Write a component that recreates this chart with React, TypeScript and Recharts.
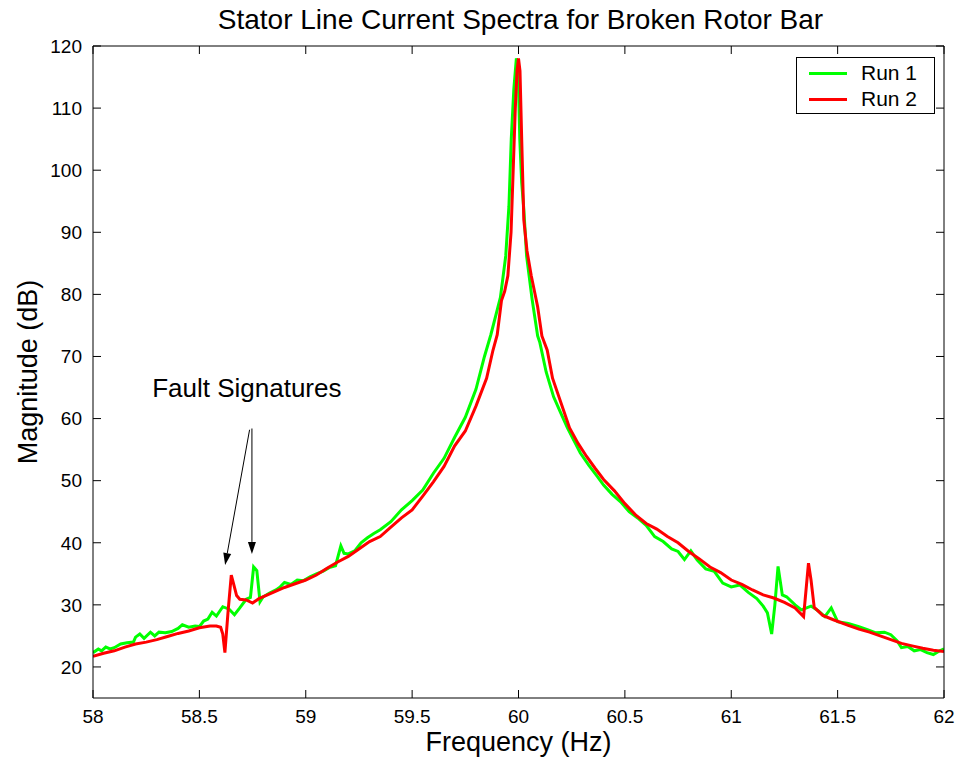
import React from 'react';
import {
  LineChart,
  Line,
  XAxis,
  YAxis,
  Legend,
  ReferenceLine,
  ReferenceDot
} from 'recharts';

// Run 1 (green) - frequency (Hz) and magnitude (dB)
const run1Freq = [
  58.0, 58.025, 58.04, 58.06, 58.08, 58.1, 58.13, 58.16, 58.19, 58.2, 58.22, 58.24, 58.27, 58.29,
  58.31, 58.34, 58.37, 58.4, 58.42, 58.45, 58.48, 58.5, 58.52, 58.54, 58.56, 58.58, 58.61, 58.64,
  58.665, 58.69, 58.72, 58.74, 58.755, 58.77, 58.785, 58.8, 58.83, 58.86, 58.88, 58.9, 58.93, 58.96,
  58.99, 59.02, 59.05, 59.08, 59.11, 59.14, 59.165, 59.18, 59.2, 59.23, 59.26, 59.29, 59.32, 59.35,
  59.4, 59.45, 59.5, 59.55, 59.6, 59.65, 59.7, 59.75, 59.8, 59.84, 59.87, 59.9, 59.915, 59.94,
  59.955, 59.966, 59.978, 59.99, 59.998, 60.006, 60.015, 60.025, 60.038, 60.064, 60.09, 60.1, 60.13,
  60.165, 60.2, 60.23, 60.26, 60.29, 60.33, 60.37, 60.4, 60.44, 60.48, 60.52, 60.56, 60.6, 60.64,
  60.68, 60.72, 60.75, 60.78, 60.81, 60.84, 60.88, 60.92, 60.96, 61.0, 61.04, 61.08, 61.12, 61.15,
  61.17, 61.19, 61.205, 61.22, 61.24, 61.26, 61.3, 61.33, 61.375, 61.41, 61.44, 61.47, 61.5, 61.55,
  61.6, 61.64, 61.68, 61.72, 61.75, 61.78, 61.8, 61.83, 61.86, 61.89, 61.92, 61.95, 61.98, 62.0
];
const run1Mag = [
  22.3, 22.9, 22.6, 23.2, 22.9, 23.1, 23.7, 23.9, 24.0, 24.8, 25.3, 24.6, 25.6, 25.0,
  25.6, 25.5, 25.7, 26.2, 26.8, 26.4, 26.6, 26.5, 27.4, 27.7, 28.8, 28.2, 29.7, 29.3,
  28.4, 29.5, 30.9, 31.2, 36.1, 35.5, 30.5, 31.3, 31.9, 32.4, 32.9, 33.6, 33.3, 34.0,
  33.9, 34.5, 35.0, 35.4, 36.0, 36.3, 39.5, 38.3, 38.2, 38.7, 40.0, 40.8, 41.5, 42.1,
  43.4, 45.3, 46.8, 48.5, 51.2, 53.6, 57.0, 60.2, 64.7, 70.0, 73.5, 77.5, 79.5, 86.2,
  94.2, 105.0, 113.0, 118.0, 117.0, 105.0, 98.0, 93.7, 86.2, 79.2, 73.3, 72.3, 67.5,
  63.5, 60.8, 58.5, 56.5, 54.5, 52.5, 50.7, 49.3, 47.8, 46.6, 45.0, 44.0, 42.8, 41.0,
  40.2, 39.0, 38.6, 37.3, 38.7, 37.2, 35.8, 35.4, 33.5, 32.9, 33.2, 32.0, 31.0, 29.8,
  28.7, 25.3, 30.0, 36.2, 31.6, 31.3, 30.0, 29.2, 29.8, 29.0, 28.1, 29.5, 27.3, 27.0,
  26.5, 26.0, 25.5, 25.6, 25.2, 24.2, 23.1, 23.3, 22.6, 22.8, 22.3, 22.0, 22.6, 22.9
];

// Run 2 (red)
const run2Freq = [
  58.0, 58.05, 58.1, 58.15, 58.2, 58.25, 58.3, 58.35, 58.4, 58.45, 58.5, 58.55, 58.58, 58.6,
  58.61, 58.62, 58.635, 58.65, 58.66, 58.675, 58.69, 58.72, 58.75, 58.78, 58.82, 58.86, 58.9, 58.95,
  59.0, 59.05, 59.1, 59.15, 59.2, 59.25, 59.3, 59.35, 59.4, 59.45, 59.5, 59.55, 59.6, 59.65,
  59.7, 59.75, 59.8, 59.85, 59.88, 59.9, 59.92, 59.935, 59.95, 59.965, 59.975, 59.985, 59.993, 60.0,
  60.007, 60.015, 60.025, 60.04, 60.06, 60.09, 60.11, 60.135, 60.16, 60.18, 60.21, 60.24, 60.28, 60.32,
  60.36, 60.4, 60.45, 60.5, 60.55, 60.6, 60.65, 60.7, 60.75, 60.8, 60.85, 60.9, 60.95, 61.0,
  61.05, 61.1, 61.15, 61.2, 61.25, 61.3, 61.34, 61.363, 61.375, 61.39, 61.43, 61.48, 61.55, 61.6,
  61.65, 61.7, 61.75, 61.8, 61.85, 61.9, 61.95, 62.0
];
const run2Mag = [
  21.7, 22.2, 22.6, 23.2, 23.7, 24.0, 24.4, 24.9, 25.4, 25.8, 26.3, 26.6, 26.6, 26.4,
  25.3, 22.3, 29.0, 34.8, 33.5, 31.5, 30.9, 30.8, 30.3, 31.0, 31.6, 32.2, 32.8, 33.4,
  34.0, 34.8, 35.9, 36.9, 37.8, 39.0, 40.2, 41.0, 42.5, 44.0, 45.3, 47.5, 49.8, 52.3,
  55.6, 58.0, 62.0, 66.5, 71.0, 73.5, 79.0, 80.5, 83.0, 90.0, 100.0, 110.0, 116.0, 118.0,
  116.0, 105.0, 92.0, 87.0, 83.0, 78.0, 73.3, 71.0, 66.5, 64.5, 61.5, 58.5, 56.0, 53.9,
  52.0, 50.2, 48.4, 46.3, 44.5, 43.1, 42.2, 41.0, 40.0, 38.6, 37.4, 36.1, 35.2, 34.0,
  33.3, 32.4, 31.6, 31.1, 30.4, 29.5, 28.1, 36.7, 34.0, 29.6, 28.3, 27.6, 26.7, 26.1,
  25.6, 25.0, 24.4, 23.8, 23.4, 23.0, 22.7, 22.5
];

const xTicks = [58, 58.5, 59, 59.5, 60, 60.5, 61, 61.5, 62];
const yTicks = [20, 30, 40, 50, 60, 70, 80, 90, 100, 110, 120];

const run1Data = run1Freq.map((f, i) => ({ freq: f, mag: run1Mag[i] }));
const run2Data = run2Freq.map((f, i) => ({ freq: f, mag: run2Mag[i] }));

const FONT = '"Liberation Sans", Arial, Helvetica, sans-serif';

// line with a filled arrow head at (x2, y2)
const Arrow = (props: any) => {
  const { x1, y1, x2, y2 } = props;
  const ang = Math.atan2(y2 - y1, x2 - x1);
  const len = 12;
  const half = 4;
  const bx = x2 - len * Math.cos(ang);
  const by = y2 - len * Math.sin(ang);
  const px = -Math.sin(ang) * half;
  const py = Math.cos(ang) * half;
  return (
    <g>
      <line x1={x1} y1={y1} x2={bx} y2={by} stroke="#000" strokeWidth={1} />
      <polygon
        points={`${x2},${y2} ${bx + px},${by + py} ${bx - px},${by - py}`}
        fill="#000"
      />
    </g>
  );
};

const LegendBox = () => (
  <div
    style={{
      width: 137,
      height: 53,
      border: '1px solid #000',
      background: '#fff',
      fontFamily: FONT,
      fontSize: 21,
      paddingTop: 2,
      boxSizing: 'content-box'
    }}
  >
    {[
      { name: 'Run 1', color: '#00ff00' },
      { name: 'Run 2', color: '#ff0000' }
    ].map((it) => (
      <div key={it.name} style={{ display: 'flex', alignItems: 'center', height: 26 }}>
        <div style={{ marginLeft: 12, width: 38, height: 3, background: it.color }} />
        <span style={{ marginLeft: 14, color: '#000', lineHeight: '26px' }}>{it.name}</span>
      </div>
    ))}
  </div>
);

const YLabel = (props: any) => {
  const { viewBox } = props;
  const cx = viewBox.x + 4;
  const cy = viewBox.y + viewBox.height / 2;
  return (
    <text
      x={cx}
      y={cy}
      transform={`rotate(-90, ${cx}, ${cy})`}
      textAnchor="middle"
      fontSize={27}
      fontFamily={FONT}
      fill="#000"
    >
      Magnitude (dB)
    </text>
  );
};

const Title = (props: any) => {
  const { viewBox } = props;
  return (
    <text
      x={viewBox.x + viewBox.width / 2 + 2}
      y={viewBox.y - 17}
      textAnchor="middle"
      fontSize={28}
      fontFamily={FONT}
      fill="#000"
    >
      Stator Line Current Spectra for Broken Rotor Bar
    </text>
  );
};

export default function App() {
  return (
    <div style={{ position: 'absolute', left: 0, top: 0, background: '#fff' }}>
      <LineChart
        width={959}
        height={757}
        margin={{ top: 46, right: 15, left: 33, bottom: 29 }}
        style={{ fontFamily: FONT }}
      >
        <XAxis
          dataKey="freq"
          type="number"
          domain={[58, 62]}
          ticks={xTicks}
          allowDataOverflow
          height={30}
          stroke="#000"
          tickSize={-8}
          tickMargin={20}
          tick={{ fill: '#000', fontSize: 19 }}
          label={{ value: 'Frequency (Hz)', position: 'bottom', offset: 4, fontSize: 27, fill: '#000' }}
        />
        <XAxis
          xAxisId="top"
          dataKey="freq"
          orientation="top"
          type="number"
          domain={[58, 62]}
          ticks={xTicks}
          allowDataOverflow
          height={1}
          mirror
          stroke="#000"
          tickSize={8}
          tickFormatter={() => ''}
          label={<Title />}
        />
        <YAxis
          type="number"
          domain={[15, 120]}
          ticks={yTicks}
          allowDataOverflow
          width={60}
          stroke="#000"
          tickSize={-8}
          tickMargin={19}
          tick={{ fill: '#000', fontSize: 19 }}
          label={<YLabel />}
        />
        <YAxis
          yAxisId="right"
          orientation="right"
          type="number"
          domain={[15, 120]}
          ticks={yTicks}
          allowDataOverflow
          width={1}
          mirror
          stroke="#000"
          tickSize={8}
          tickFormatter={() => ''}
        />
        <Legend
          layout="horizontal"
          align="center"
          verticalAlign="middle"
          content={<LegendBox />}
          wrapperStyle={{ left: 796, top: 57, width: 139, height: 57 }}
        />
        <Line
          data={run1Data}
          dataKey="mag"
          name="Run 1"
          type="linear"
          stroke="#00ff00"
          strokeWidth={3}
          dot={false}
          isAnimationActive={false}
        />
        <Line
          data={run2Data}
          dataKey="mag"
          name="Run 2"
          type="linear"
          stroke="#ff0000"
          strokeWidth={3}
          dot={false}
          isAnimationActive={false}
        />
        <ReferenceDot
          x={58.278}
          y={63.4}
          r={0}
          shape={(p: any) => (
            <text x={p.cx} y={p.cy} fontSize={26} fontFamily={FONT} fill="#000">
              Fault Signatures
            </text>
          )}
        />
        <ReferenceLine
          segment={[{ x: 58.736, y: 58.2 }, { x: 58.621, y: 36.4 }]}
          shape={<Arrow />}
        />
        <ReferenceLine
          segment={[{ x: 58.747, y: 58.4 }, { x: 58.747, y: 38.2 }]}
          shape={<Arrow />}
        />
      </LineChart>
    </div>
  );
}
